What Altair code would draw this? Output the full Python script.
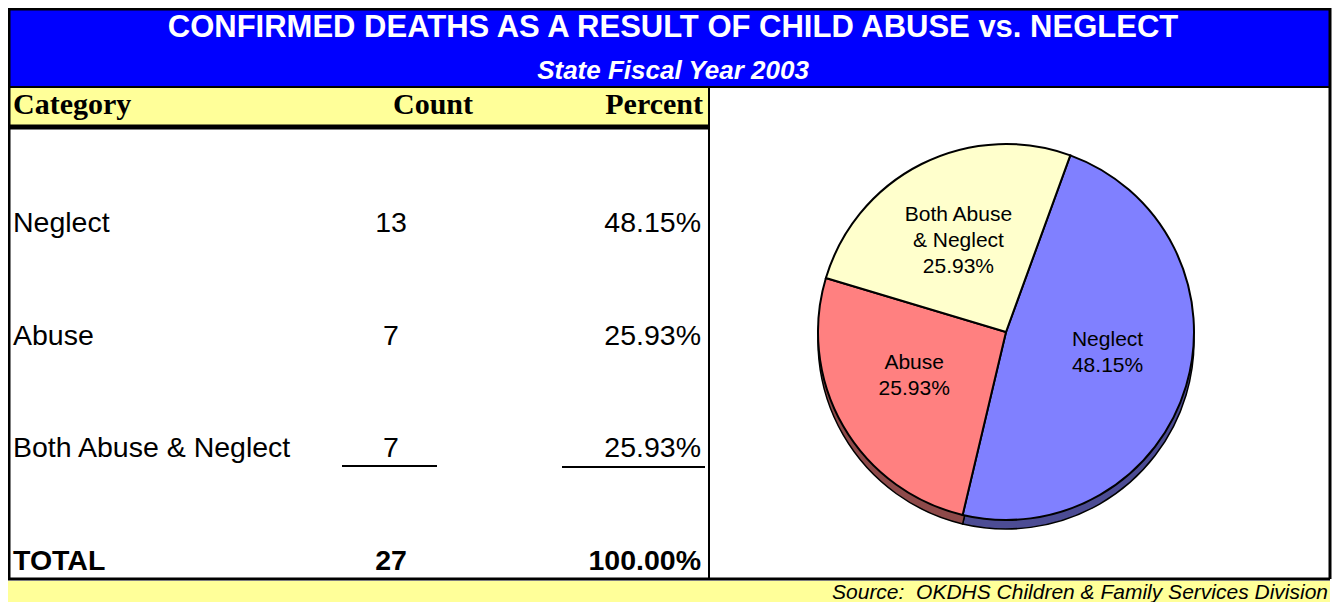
import math
import altair as alt
import pandas as pd

# ---- data ----
categories = ["Neglect", "Abuse", "Both Abuse & Neglect"]
counts = [13, 7, 7]
percents = ["48.15%", "25.93%", "25.93%"]
total_label = "TOTAL"
total_count = "27"
total_percent = "100.00%"
header_labels = ["Category", "Count", "Percent"]
title_text = "CONFIRMED DEATHS AS A RESULT OF CHILD ABUSE vs. NEGLECT"
subtitle_text = "State Fiscal Year 2003"
source_text = "Source:\u00a0 OKDHS Children & Family Services Division"
pie_label_lines = ["Neglect\n48.15%", "Abuse\n25.93%", "Both Abuse\n& Neglect\n25.93%"]

# ---- styles ----
BLUE = "#0000FF"
YELLOW = "#FFFF99"
slice_colors = ["#8080FF", "#FF8080", "#FFFFCC"]
shadow_colors = ["#4C4C94", "#8E4A4A", "#9A9A70"]
SANS = "Liberation Sans"
SERIF = "Liberation Serif"
W, H = 1324, 594
start = math.radians(20)

pie_df = pd.DataFrame({
    "Category": categories,
    "Count": counts,
    "idx": list(range(len(categories))),
    "label": pie_label_lines,
})
rows = categories + [total_label]
table_df = pd.DataFrame({
    "Row": categories,
    "CountText": [str(c) for c in counts],
    "PctText": percents,
})
total_df = pd.DataFrame({"Row": [total_label], "CountText": [total_count], "PctText": [total_percent]})

one = alt.Data(values=[{}])

def rect(x, x2, y, y2, fill, **kw):
    return alt.Chart(one).mark_rect(fill=fill, **kw).encode(
        x=alt.value(x), x2=alt.value(x2), y=alt.value(y), y2=alt.value(y2))

def rule(x, x2, y, y2, width):
    return alt.Chart(one).mark_rule(color="black", strokeWidth=width).encode(
        x=alt.value(x), x2=alt.value(x2), y=alt.value(y), y2=alt.value(y2))

blue_band = rect(0, W - 1, 0, 79, BLUE)
header_band = rect(0, 701, 80, 117, YELLOW)
source_band = rect(0, W - 2, 573, H, YELLOW)

theta_enc = alt.Theta("Count:Q", stack=True,
                      scale=alt.Scale(range=[start, start + 2 * math.pi]))
order_enc = alt.Order("idx:Q")

PCX, PCY, R = 998, 324, 188

shadow_pie = alt.Chart(pie_df).mark_arc(outerRadius=R, stroke="black", strokeWidth=1.5).encode(
    x=alt.value(PCX), y=alt.value(PCY + 9), theta=theta_enc, order=order_enc,
    color=alt.Color("Category:N", scale=alt.Scale(domain=categories, range=shadow_colors), legend=None),
)
main_pie = alt.Chart(pie_df).mark_arc(outerRadius=R, stroke="black", strokeWidth=2).encode(
    x=alt.value(PCX), y=alt.value(PCY), theta=theta_enc, order=order_enc,
    fill=alt.Fill("Category:N", scale=alt.Scale(domain=categories, range=slice_colors), legend=None),
)
pie_text = alt.Chart(pie_df).mark_text(radius=106, font=SANS, fontSize=21, lineBreak="\n",
                                       lineHeight=26, color="black", baseline="middle",
                                       align="center", dy=-22).encode(
    x=alt.value(PCX), y=alt.value(PCY), theta=theta_enc, order=order_enc,
    text="label:N",
)

# lines
lines = [
    rule(0, 701, 79, 79, 2),        # under blue band (left)
    rule(701, W - 2, 79, 79, 2),    # top of pie panel
    rule(0, 701, 119, 119, 5),      # under header
    rule(701, 701, 79, 571, 2),     # divider
    rule(0, W - 2, 571, 571, 3),    # bottom line
    rule(1, 1, 0, 571, 3),          # left border
    rule(W - 2, W - 2, 0, 571, 3),  # right border
    rule(0, W - 1, 1, 1, 3),        # top border
    rule(334, 429, 458, 458, 2),    # underline count
    rule(554, 697, 459, 459, 2),    # underline percent
]

title = alt.Chart(one).mark_text(text=title_text, font=SANS, fontSize=31, fontWeight="bold",
                                 color="white", align="center", baseline="alphabetic").encode(
    x=alt.value(665), y=alt.value(29))
subtitle = alt.Chart(one).mark_text(text=subtitle_text, font=SANS, fontSize=26, fontWeight="bold",
                                    fontStyle="italic", color="white", align="center",
                                    baseline="alphabetic").encode(
    x=alt.value(665), y=alt.value(71))
source = alt.Chart(one).mark_text(text=source_text, font=SANS, fontSize=21, fontStyle="italic",
                                  color="black", align="right", baseline="middle").encode(
    x=alt.value(1320), y=alt.value(585))

hdr_kw = dict(font=SERIF, fontSize=30, fontWeight="bold", color="black", baseline="alphabetic")
hdr_cat = alt.Chart(one).mark_text(text=header_labels[0], align="left", **hdr_kw).encode(
    x=alt.value(5), y=alt.value(106))
hdr_cnt = alt.Chart(one).mark_text(text=header_labels[1], align="right", **hdr_kw).encode(
    x=alt.value(465), y=alt.value(106))
hdr_pct = alt.Chart(one).mark_text(text=header_labels[2], align="right", **hdr_kw).encode(
    x=alt.value(695), y=alt.value(106))

ysc = alt.Y("Row:N", scale=alt.Scale(type="point", domain=rows, range=[224, 562], padding=0), axis=None)

def table_layer(df, field, align, xpos, bold):
    kw = dict(font=SANS, fontSize=28.5, color="black", baseline="alphabetic", align=align)
    if bold:
        kw["fontWeight"] = "bold"
    return alt.Chart(df).mark_text(**kw).encode(x=alt.value(xpos), y=ysc, text=f"{field}:N")

table_layers = [
    table_layer(table_df, "Row", "left", 5, False),
    table_layer(table_df, "CountText", "center", 383, False),
    table_layer(table_df, "PctText", "right", 693, False),
    table_layer(total_df, "Row", "left", 5, True),
    table_layer(total_df, "CountText", "center", 383, True),
    table_layer(total_df, "PctText", "right", 693, True),
]

chart = alt.layer(
    blue_band, header_band, source_band,
    shadow_pie, main_pie, pie_text,
    *lines,
    title, subtitle, source,
    hdr_cat, hdr_cnt, hdr_pct,
    *table_layers,
).resolve_scale(color="independent", fill="independent").properties(
    width=W, height=H, padding=0, autosize=alt.AutoSizeParams(type="none"),
    background="white",
).configure_view(stroke=None)

chart.save("out.html", embed_options={"renderer": "svg", "actions": False})
